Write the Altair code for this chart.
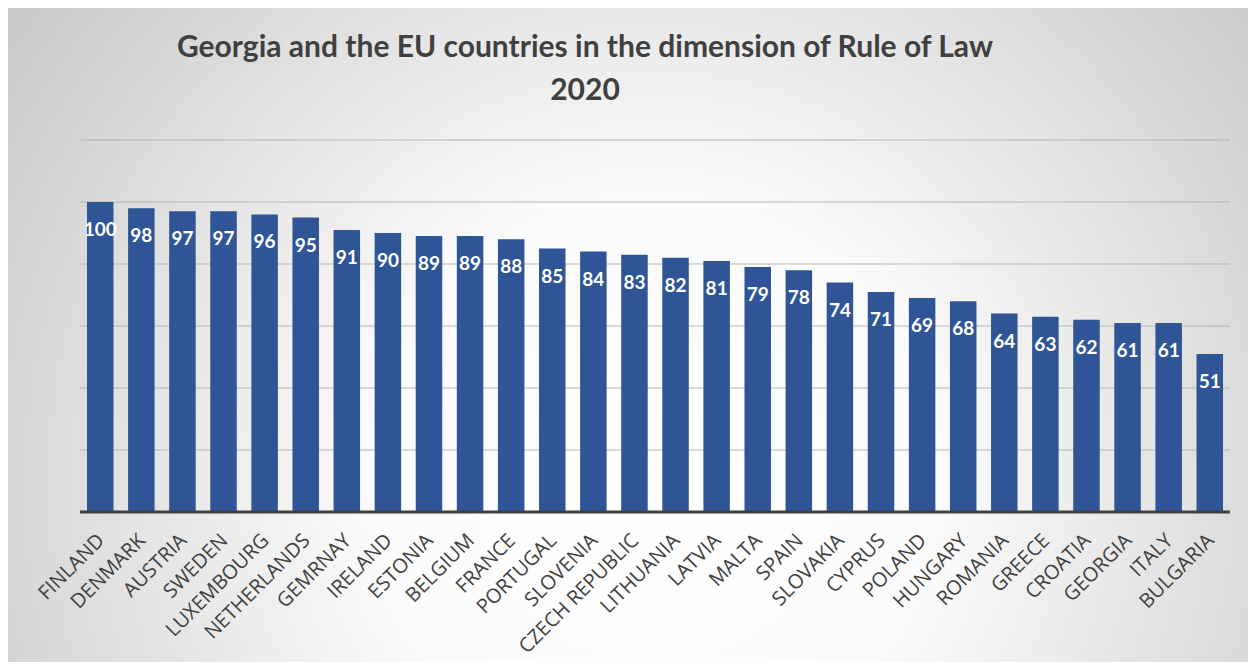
import altair as alt
import pandas as pd

countries = ["FINLAND", "DENMARK", "AUSTRIA", "SWEDEN", "LUXEMBOURG", "NETHERLANDS",
             "GEMRNAY", "IRELAND", "ESTONIA", "BELGIUM", "FRANCE", "PORTUGAL",
             "SLOVENIA", "CZECH REPUBLIC", "LITHUANIA", "LATVIA", "MALTA", "SPAIN",
             "SLOVAKIA", "CYPRUS", "POLAND", "HUNGARY", "ROMANIA", "GREECE",
             "CROATIA", "GEORGIA", "ITALY", "BULGARIA"]
values = [100, 98, 97, 97, 96, 95, 91, 90, 89, 89, 88, 85, 84, 83, 82, 81, 79, 78,
          74, 71, 69, 68, 64, 63, 62, 61, 61, 51]
grid_ticks = [20, 40, 60, 80, 100, 120]
title_lines = ["Georgia and the EU countries in the dimension of Rule of Law", "2020"]

W, H = 1150, 372
PL, PT, PR, PB = 72, 132, 18, 150

df = pd.DataFrame({"country": countries, "value": values})
grid_df = pd.DataFrame({"v": grid_ticks})

yscale = alt.Scale(domain=[0, 120], nice=False)

bg = alt.Chart(alt.Data(values=[{}])).mark_rect(
    fill=alt.Gradient(
        gradient="radial",
        stops=[alt.GradientStop(offset=0, color="#ffffff"),
               alt.GradientStop(offset=0.3, color="#fbfbfb"),
               alt.GradientStop(offset=1, color="#bababa")],
        x1=0.52, y1=0.62, r1=0, x2=0.52, y2=0.62, r2=0.76),
).encode(
    x=alt.value(-PL), x2=alt.value(W + PR),
    y=alt.value(-PT), y2=alt.value(H + PB),
)

grid = alt.Chart(grid_df).mark_rule(color="#b5b5b5", strokeWidth=1).encode(
    y=alt.Y("v:Q", scale=yscale, axis=None)
)

bars = alt.Chart(df).mark_bar(color="#2F5597").encode(
    x=alt.X("country:N", sort=None, title=None,
            scale=alt.Scale(paddingInner=0.355, paddingOuter=0.17),
            axis=alt.Axis(labelAngle=-45, labelFontSize=20, labelFont="Open Sans",
                          labelColor="#404040", domain=False, ticks=False,
                          labelPadding=18, labelOffset=-6, zindex=1, grid=False)),
    y=alt.Y("value:Q", scale=yscale, axis=None),
)

labels = alt.Chart(df).mark_text(
    color="white", font="Lato", fontWeight="bold", fontSize=19,
    baseline="middle", dy=28,
).encode(
    x=alt.X("country:N", sort=None),
    y=alt.Y("value:Q", scale=yscale),
    text=alt.Text("value:Q"),
)

base = alt.Chart(pd.DataFrame({"v": [0]})).mark_rule(color="#404040", strokeWidth=3).encode(
    y=alt.Y("v:Q", scale=yscale)
)

title1 = alt.Chart(alt.Data(values=[{"t": title_lines[0]}])).mark_text(
    font="Lato", fontSize=30, fontWeight="bold", color="#404040",
    align="center", baseline="alphabetic",
).encode(text="t:N", x=alt.value(505), y=alt.value(-83))

title2 = alt.Chart(alt.Data(values=[{"t": title_lines[1]}])).mark_text(
    font="Lato", fontSize=30, fontWeight="bold", color="#404040",
    align="center", baseline="alphabetic",
).encode(text="t:N", x=alt.value(505), y=alt.value(-40))

chart = alt.layer(bg, grid, bars, labels, base, title1, title2).properties(
    width=W, height=H,
    autosize=alt.AutoSizeParams(type="none"),
    padding={"left": PL, "top": PT, "right": PR, "bottom": PB},
).configure_view(stroke=None)

chart.save("out.html", embed_options={"renderer": "svg", "actions": False})
